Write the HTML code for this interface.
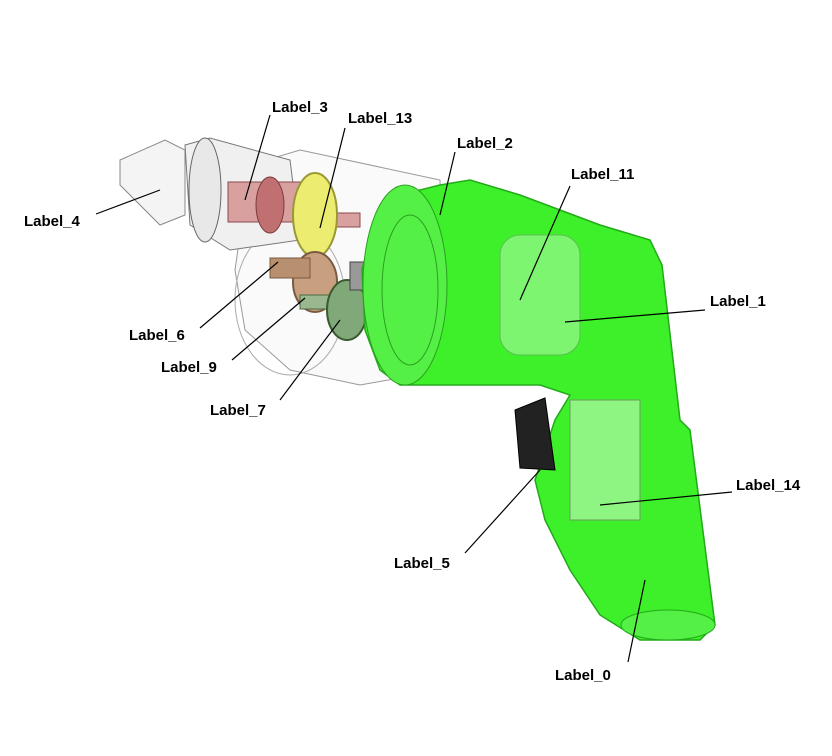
<!DOCTYPE html>
<html><head><meta charset="utf-8"><style>
html,body{margin:0;padding:0;background:#fff;}
svg{display:block;}
.lbl{font-family:"Liberation Sans",Arial,sans-serif;font-weight:bold;font-size:15px;fill:#000;stroke:#fff;stroke-width:3px;paint-order:stroke;}
.ld{stroke:#000;stroke-width:1.2;}
</style></head><body>
<svg width="832" height="756" viewBox="0 0 832 756">
<g>
<path d="M250 165 L300 150 L440 180 L445 370 L360 385 L290 370 L245 330 L235 270 Z" fill="#fafafa" stroke="#999" stroke-width="1"/>
<ellipse cx="290" cy="300" rx="55" ry="75" fill="none" stroke="#aaa"/>
</g>
<g>
<path d="M120 160 L165 140 L185 150 L185 215 L160 225 L120 185 Z" fill="#f4f4f4" stroke="#888"/>
<path d="M185 145 L210 138 L290 160 L300 240 L230 250 L190 225 Z" fill="#f0f0f0" stroke="#777"/>
<ellipse cx="205" cy="190" rx="16" ry="52" fill="#e8e8e8" stroke="#666"/>
</g>
<g>
<rect x="228" y="182" width="72" height="40" fill="#d9a0a0" stroke="#8a4a4a"/>
<ellipse cx="270" cy="205" rx="14" ry="28" fill="#c07070" stroke="#7a3a3a"/>
<rect x="300" y="213" width="60" height="14" fill="#d9a0a0" stroke="#8a4a4a"/>
</g>
<g>
<ellipse cx="315" cy="215" rx="22" ry="42" fill="#ecec70" stroke="#999933" stroke-width="2"/>
</g>
<g>
<ellipse cx="315" cy="282" rx="22" ry="30" fill="#c8a080" stroke="#7a5a40" stroke-width="2"/>
<rect x="270" y="258" width="40" height="20" fill="#b89070" stroke="#7a5a40"/>
</g>
<g>
<rect x="300" y="295" width="45" height="14" fill="#9ab890" stroke="#4a6a40"/>
<ellipse cx="347" cy="310" rx="20" ry="30" fill="#80a878" stroke="#3a5a30" stroke-width="2"/>
</g>
<g>
<rect x="350" y="262" width="80" height="28" fill="#999" stroke="#444"/>
<ellipse cx="390" cy="276" rx="10" ry="20" fill="#777" stroke="#333"/>
</g>
<g>
<path d="M440 185 L470 180 L520 195 L600 225 L650 240 L662 265 L680 420 L690 430 L715 625 L700 640 L640 640 L600 615 L570 570 L545 520 L535 480 L555 420 L570 395 L540 385 L470 385 L400 385 L380 370 L365 330 L362 270 L375 220 L400 195 Z" fill="#3ef02a" stroke="#22aa18" stroke-width="1.5"/>
<ellipse cx="405" cy="285" rx="42" ry="100" fill="#55f045" stroke="#2aa020"/>
<ellipse cx="410" cy="290" rx="28" ry="75" fill="none" stroke="#2aa020"/>
<rect x="500" y="235" width="80" height="120" rx="20" fill="#7ef570" stroke="#5ac050"/>
<rect x="570" y="400" width="70" height="120" fill="#8ef582" stroke="#6a9a60"/>
<ellipse cx="668" cy="625" rx="47" ry="15" fill="#55f045" stroke="#22aa18"/>
</g>
<g>
<path d="M515 410 L545 398 L555 470 L520 468 Z" fill="#222" stroke="#000"/>
</g>
<g>
<line class="ld" x1="270" y1="115" x2="245" y2="200"/>
<line class="ld" x1="345" y1="128" x2="320" y2="228"/>
<line class="ld" x1="455" y1="152" x2="440" y2="215"/>
<line class="ld" x1="570" y1="186" x2="520" y2="300"/>
<line class="ld" x1="96" y1="214" x2="160" y2="190"/>
<line class="ld" x1="705" y1="310" x2="565" y2="322"/>
<line class="ld" x1="200" y1="328" x2="278" y2="262"/>
<line class="ld" x1="232" y1="360" x2="305" y2="298"/>
<line class="ld" x1="280" y1="400" x2="340" y2="320"/>
<line class="ld" x1="732" y1="492" x2="600" y2="505"/>
<line class="ld" x1="465" y1="553" x2="540" y2="470"/>
<line class="ld" x1="628" y1="662" x2="645" y2="580"/>
</g>
<g>
<text class="lbl" x="272" y="112">Label_3</text>
<text class="lbl" x="348" y="123">Label_13</text>
<text class="lbl" x="457" y="148">Label_2</text>
<text class="lbl" x="571" y="179">Label_11</text>
<text class="lbl" x="24" y="226">Label_4</text>
<text class="lbl" x="710" y="306">Label_1</text>
<text class="lbl" x="129" y="340">Label_6</text>
<text class="lbl" x="161" y="372">Label_9</text>
<text class="lbl" x="210" y="415">Label_7</text>
<text class="lbl" x="736" y="490">Label_14</text>
<text class="lbl" x="394" y="568">Label_5</text>
<text class="lbl" x="555" y="680">Label_0</text>
</g>
</svg>
</body></html>
